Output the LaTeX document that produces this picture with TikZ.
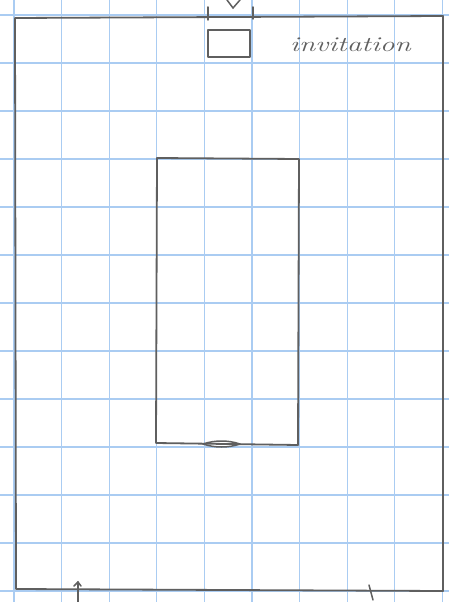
\documentclass[tikz,border=0pt]{standalone}
\usepackage{fontspec}
\usepackage{tikz}
\usetikzlibrary{arrows.meta,positioning}

\definecolor{gridblue}{RGB}{170,204,242}
\definecolor{pencil}{RGB}{95,95,95}

\begin{document}
\begin{tikzpicture}[
  x=1pt, y=-1pt,
  gridline/.style={gridblue, line width=1.1pt},
  wall/.style={pencil, line width=1.8pt, line join=round, line cap=round},
  tickline/.style={pencil, line width=1.5pt, line cap=round},
  label/.style={pencil, font=\fontsize{21}{21}\selectfont\itshape},
]
  \useasboundingbox (0,0) rectangle (449,602);
  \fill[white] (0,0) rectangle (449,602);

  % graph paper
  \foreach \i in {0,...,9}
    \draw[gridline] ({14+47.6*\i},0) -- ({14+47.6*\i},602);
  \foreach \j in {0,...,12}
    \draw[gridline] (0,{15+48*\j}) -- (449,{15+48*\j});

  % outer room
  \draw[wall] (15,18) -- (443,16) -- (443,591) -- (16,589) -- cycle;

  % door at top
  \draw[tickline] (208,7) -- (208,20);
  \draw[tickline] (253,7) -- (253,19);
  \draw[tickline] (227,0) -- (233,8) -- (240,0);

  % small box below the door
  \draw[wall] (208,30) rectangle (250,57);

  % table
  \draw[wall] (157,158) -- (299,159) -- (298,445) -- (156,443) -- cycle;
  \draw[tickline] (203,444) .. controls (215,440) and (228,440) .. (240,444);
  \draw[tickline] (203,444) .. controls (215,448) and (228,448) .. (240,444);

  % openings at bottom
  \draw[tickline] (78,602) -- (78,582);
  \draw[tickline] (74,586) -- (78,582) -- (81,586);
  \draw[tickline] (373,600) -- (369,585);

  \node[label, anchor=west, inner sep=0pt] (invitation) at (290,45) {\scalebox{1.4}[1]{invitation}};
\end{tikzpicture}
\end{document}
